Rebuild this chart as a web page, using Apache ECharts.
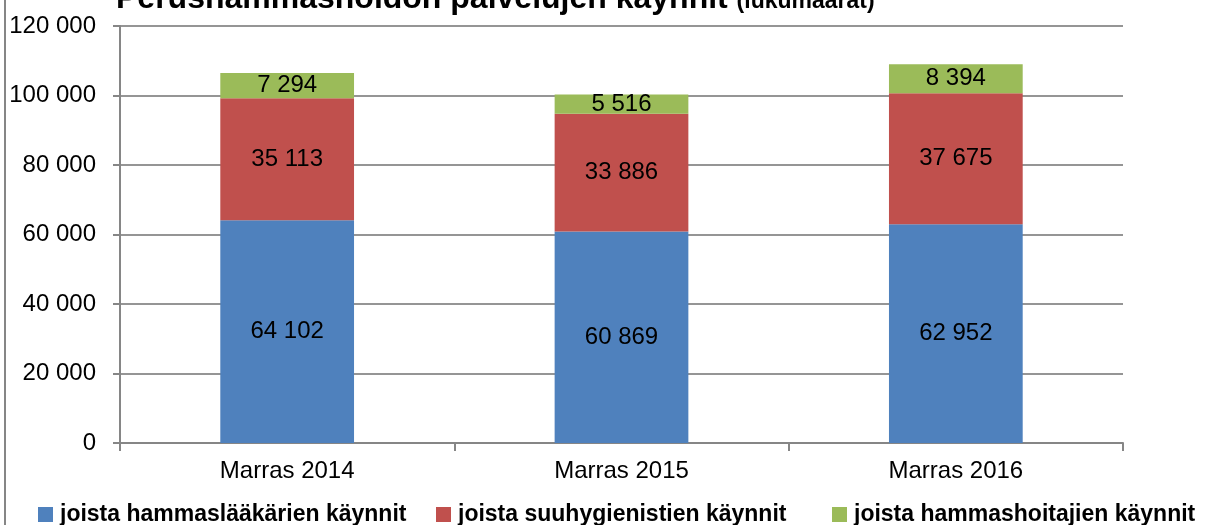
<!DOCTYPE html>
<html><head><meta charset="utf-8">
<script src="https://cdn.jsdelivr.net/npm/echarts@6/dist/echarts.min.js"></script>
<style>html,body{margin:0;padding:0;background:#fff}#c{width:1206px;height:525px}</style>
</head><body><div id="c"></div>
<script>
const categories = ['Marras 2014', 'Marras 2015', 'Marras 2016'];
const hammaslaakarit = [64102, 60869, 62952];
const suuhygienistit = [35113, 33886, 37675];
const hammashoitajat = [7294, 5516, 8394];
const seriesNames = ['joista hammaslääkärien käynnit', 'joista suuhygienistien käynnit', 'joista hammashoitajien käynnit'];
const yTicks = { min: 0, max: 120000, interval: 20000 };
const titleMain = 'Perushammashoidon palvelujen käynnit';
const titleSub = '(lukumäärät)';

const FONT = '"Liberation Sans", Arial, sans-serif';
const fmt = v => String(v).replace(/\B(?=(\d{3})+(?!\d))/g, ' ');
const colors = ['#4f81bd', '#c0504d', '#9bbb59'];
const legendLeft = [38, 436, 832];

const chart = echarts.init(document.getElementById('c'), null, { renderer: 'canvas' });
const mkSeries = (name, data, i) => ({
  name, type: 'bar', stack: 'total', data, barWidth: '40%',
  itemStyle: { color: colors[i] },
  label: { show: true, position: 'inside', color: '#000', fontFamily: FONT, fontSize: 24,
           formatter: p => fmt(p.value) },
  emphasis: { disabled: true }
});
chart.setOption({
  animation: false,
  textStyle: { fontFamily: FONT },
  grid: { left: 120, right: 83, top: 26, bottom: 82, containLabel: false },
  graphic: [
    { type: 'line', shape: { x1: 5, y1: 0, x2: 5, y2: 525 }, style: { stroke: '#868686', lineWidth: 2 } },
    { type: 'text', left: 116, top: -17, style: {
        rich: { a: { fontFamily: FONT, fontWeight: 'bold', fontSize: 32, fill: '#000', verticalAlign: 'bottom' },
                b: { fontFamily: FONT, fontWeight: 'bold', fontSize: 23, fill: '#000', verticalAlign: 'bottom', padding: [0, 0, 2, 0] } },
        text: '{a|' + titleMain + ' }{b|' + titleSub + '}' } }
  ],
  legend: seriesNames.map((n, i) => ({
    left: legendLeft[i], top: 503, itemWidth: 15, itemHeight: 15, itemGap: 0, padding: 0,
    icon: 'rect', selectedMode: false,
    textStyle: { fontFamily: FONT, fontWeight: 'bold', fontSize: 23, color: '#000', padding: [0, 0, 0, 2] },
    data: [n]
  })),
  xAxis: {
    type: 'category', data: categories,
    axisLine: { lineStyle: { color: '#868686', width: 2 } },
    axisTick: { show: true, length: 8, lineStyle: { color: '#868686', width: 2 } },
    axisLabel: { color: '#000', fontFamily: FONT, fontSize: 24, margin: 16 }
  },
  yAxis: {
    type: 'value', min: yTicks.min, max: yTicks.max, interval: yTicks.interval,
    axisLine: { show: true, lineStyle: { color: '#868686', width: 2 } },
    axisTick: { show: true, length: 7, lineStyle: { color: '#868686', width: 2 } },
    splitLine: { lineStyle: { color: '#959595', width: 2 } },
    axisLabel: { color: '#000', fontFamily: FONT, fontSize: 24, margin: 24, formatter: v => fmt(v) }
  },
  series: [
    mkSeries(seriesNames[0], hammaslaakarit, 0),
    mkSeries(seriesNames[1], suuhygienistit, 1),
    mkSeries(seriesNames[2], hammashoitajat, 2)
  ]
});
</script></body></html>
